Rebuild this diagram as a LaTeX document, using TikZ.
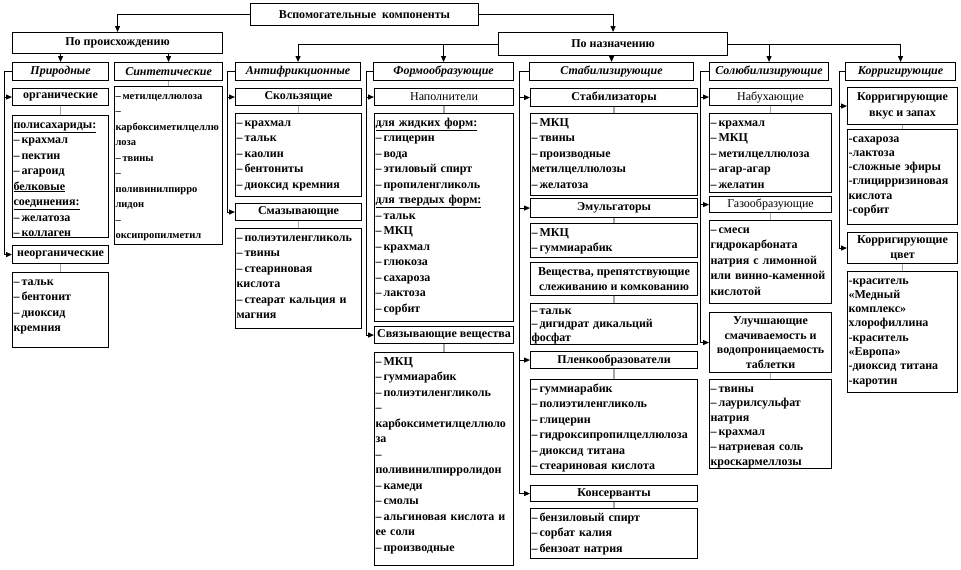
\documentclass[tikz,border=0pt]{standalone}
\usepackage{fontspec}
\setmainfont{Liberation Serif}
\usetikzlibrary{arrows.meta}

\begin{document}
\begin{tikzpicture}[
    x=1pt, y=-1pt,
    every node/.style={inner sep=0pt, font=\fontsize{12}{15.5}\selectfont\bfseries}
]

\tikzset{
  ttl/.style 2 args={draw, line width=1.1pt, anchor=north west,
    minimum width=#1pt, minimum height=#2pt, align=center},
  hdr/.style 2 args={ttl={#1}{#2}, font=\fontsize{12}{15.5}\selectfont\bfseries\itshape},
  lst/.style 2 args={draw, line width=1.1pt, anchor=north west, align=left,
    inner xsep=1pt, inner ysep=1.5pt, text width=#1pt-2pt,
    text height=11pt, text depth=#2pt-14pt},
  arr/.style={line width=1pt, -{Triangle[length=6pt,width=5pt]}},
  link/.style={draw=gray!70, line width=1.5pt}
}

\useasboundingbox (0,0) rectangle (961,570);

% ================= верхний уровень =================

\node[ttl={228}{22}] (top)    at (250,3)  {Вспомогательные~~компоненты};
\node[ttl={210}{21}] (proish) at (12,32)  {По происхождению};
\node[ttl={229}{23}] (naz)    at (498,32) {По назначению};

\draw[arr] (top.west) -| (proish.north);
\draw[arr] (top.east) -| (naz.north);

% ================= группы =================

\node[hdr={96}{18}]  (prir)  at (12,62)  {Природные};
\node[hdr={108}{18}] (sint)  at (114,62) {Синтетические};
\node[hdr={125}{18}] (anti)  at (235,62) {Антифрикционные};
\node[hdr={140}{18}] (form)  at (373,62) {Формообразующие};
\node[hdr={164}{18}] (stab)  at (529,62) {Стабилизирующие};
\node[hdr={119}{18}] (solub) at (709,62) {Солюбилизирующие};
\node[hdr={110}{18}] (korr)  at (845,62) {Корригирующие};

\draw[arr] (proish.south -| prir.north) -- (prir.north);
\draw[arr] (proish.south -| sint.north) -- (sint.north);
\draw[arr] (naz.west) -| (anti.north);
\draw[arr] (naz.west -| form.north) -- (form.north);
\draw[arr] (naz.south -| stab.north) -- (stab.north);
\draw[arr] (naz.east -| solub.north) -- (solub.north);
\draw[arr] (naz.east) -| (korr.north);

% ================= Природные / Синтетические =================

\node[ttl={96}{17}] (org) at (12,88) {органические};
\node[lst={96}{122}] (orgL) at (12,115) {\underline{полисахариды:}\\
  –\,крахмал\\ –\,пектин\\ –\,агароид\\ \underline{белковые}\\
  \underline{соединения:}\\ –\,желатоза\\ –\,коллаген};
\node[ttl={96}{18}] (neorg) at (12,245) {неорганические};
\node[lst={96}{75}] (neorgL) at (12,272) {–\,тальк\\ –\,бентонит\\ –\,диоксид\\ кремния};

\draw[arr] (prir.west) -- ++(-8,0) |- (org.west);
\draw[arr] (prir.west) -- ++(-8,0) |- (neorg.west);
\draw[link] (org) -- (orgL);
\draw[link] (neorg) -- (neorgL);

\node[lst={108}{158}, font=\fontsize{10.5}{15.5}\selectfont\bfseries] (sintL) at (114,86)
  {–\,метилцеллюлоза\\ –\\ карбоксиметилцеллю\\
  лоза\\ –\,твины\\ –\\ поливинилпирро\\ лидон\\ –\\ оксипропилметил};
\draw[link] (sint) -- (sintL);

% ================= Антифрикционные =================

\node[ttl={126}{17}] (skol) at (235,88) {Скользящие};
\node[lst={126}{83}] (skolL) at (235,113) {–\,крахмал\\ –\,тальк\\ –\,каолин\\
  –\,бентониты\\ –\,диоксид кремния};
\node[ttl={126}{17}] (smaz) at (235,203) {Смазывающие};
\node[lst={126}{100}] (smazL) at (235,228) {–\,полиэтиленгликоль\\ –\,твины\\
  –\,стеариновая\\ кислота\\ –\,стеарат кальция и\\ магния};

\draw[arr] (anti.west) -- ++(-8,0) |- (skol.west);
\draw[arr] (anti.west) -- ++(-8,0) |- (smaz.west);
\draw[link] (skol) -- (skolL);
\draw[link] (smaz) -- (smazL);

% ================= Формообразующие =================

\node[ttl={139}{17}, font=\fontsize{12}{15.5}\selectfont] (napol) at (374,88) {Наполнители};
\node[lst={139}{208}] (napolL) at (374,113) {\underline{для жидких форм:}\\
  –\,глицерин\\ –\,вода\\ –\,этиловый спирт\\ –\,пропиленгликоль\\
  \underline{для твердых форм:}\\ –\,тальк\\ –\,МКЦ\\ –\,крахмал\\
  –\,глюкоза\\ –\,сахароза\\ –\,лактоза\\ –\,сорбит};
\node[ttl={139}{17}] (svyaz) at (374,326) {Связывающие вещества};
\node[lst={139}{213}] (svyazL) at (374,352) {–\,МКЦ\\ –\,гуммиарабик\\
  –\,полиэтиленгликоль\\ –\\ карбоксиметилцеллюло\\ за\\ –\\
  поливинилпирролидон\\ –\,камеди\\ –\,смолы\\ –\,альгиновая кислота и\\
  ее соли\\ –\,производные};

\draw[arr] (form.west) -- ++(-7,0) |- (napol.west);
\draw[arr] (form.west) -- ++(-7,0) |- (svyaz.west);
\draw[link] (napol) -- (napolL);
\draw[link] (svyaz) -- (svyazL);

% ================= Стабилизирующие =================

\node[ttl={167}{18}] (stabz) at (530,88) {Стабилизаторы};
\node[lst={167}{82}] (stabzL) at (530,113) {–\,МКЦ\\ –\,твины\\ –\,производные\\
  метилцеллюлозы\\ –\,желатоза};
\node[ttl={167}{19}] (emul) at (530,198) {Эмульгаторы};
\node[lst={167}{34}] (emulL) at (530,223) {–\,МКЦ\\ –\,гуммиарабик};
\node[ttl={167}{33}] (vesch) at (530,262) {Вещества, препятствующие\\ слеживанию и комкованию};
\node[lst={167}{41}, font=\fontsize{12}{13.5}\selectfont\bfseries, text height=9pt,
  text depth=41pt-12pt] (veschL) at (530,303) {–\,тальк\\ –\,дигидрат дикальций\\ фосфат};
\node[ttl={167}{17}] (plenk) at (530,351) {Пленкообразователи};
\node[lst={167}{95}] (plenkL) at (530,379) {–\,гуммиарабик\\ –\,полиэтиленгликоль\\
  –\,глицерин\\ –\,гидроксипропилцеллюлоза\\ –\,диоксид титана\\
  –\,стеариновая кислота};
\node[ttl={167}{16}] (kons) at (530,485) {Консерванты};
\node[lst={167}{50}] (konsL) at (530,508) {–\,бензиловый спирт\\ –\,сорбат калия\\
  –\,бензоат натрия};

\draw[arr] (stab.west) -- ++(-10,0) |- (stabz.west);
\draw[arr] (stab.west) -- ++(-10,0) |- (emul.west);
\draw[arr] (stab.west) -- ++(-10,0) |- (plenk.west);
\draw[arr] (stab.west) -- ++(-10,0) |- (kons.west);
\draw[link] (stabz) -- (stabzL);
\draw[link] (emul) -- (emulL);
\draw[link] (vesch) -- (veschL);
\draw[link] (plenk) -- (plenkL);
\draw[link] (kons) -- (konsL);

% ================= Солюбилизирующие =================

\node[ttl={122}{17}, font=\fontsize{12}{15.5}\selectfont] (nab) at (709,88) {Набухающие};
\node[lst={122}{79}] (nabL) at (709,113) {–\,крахмал\\ –\,МКЦ\\ –\,метилцеллюлоза\\
  –\,агар-агар\\ –\,желатин};
\node[ttl={122}{16}, font=\fontsize{12}{15.5}\selectfont] (gaz) at (709,196) {Газообразующие};
\node[lst={122}{83}] (gazL) at (709,220) {–\,смеси\\ гидрокарбоната\\ натрия с лимонной\\
  или винно-каменной\\ кислотой};
\node[ttl={122}{60}, font=\fontsize{12}{14.5}\selectfont\bfseries] (uluch) at (709,312)
  {Улучшающие\\ смачиваемость и\\ водопроницаемость\\ таблетки};
\node[lst={122}{89}, font=\fontsize{12}{14.6}\selectfont\bfseries] (uluchL) at (709,379)
  {–\,твины\\ –\,лаурилсульфат\\ натрия\\
  –\,крахмал\\ –\,натриевая соль\\ кроскармеллозы};

\draw[arr] (solub.west) -- ++(-9,0) |- (nab.west);
\draw[arr] (solub.west) -- ++(-9,0) |- (gaz.west);
\draw[arr] (solub.west) -- ++(-9,0) |- (uluch.west);
\draw[link] (nab) -- (nabL);
\draw[link] (gaz) -- (gazL);
\draw[link] (uluch) -- (uluchL);

% ================= Корригирующие =================

\node[ttl={110}{37}] (vkus) at (847,87) {Корригирующие\\ вкус и запах};
\node[lst={110}{95}, font=\fontsize{12}{14.3}\selectfont\bfseries] (vkusL) at (847,129)
  {-сахароза\\ -лактоза\\ -сложные эфиры\\ -глицирризиновая\\ кислота\\ -сорбит};
\node[ttl={110}{31}] (cvet) at (847,232) {Корригирующие\\ цвет};
\node[lst={110}{121}, font=\fontsize{12}{14.3}\selectfont\bfseries] (cvetL) at (847,271)
  {-краситель\\ «Медный\\ комплекс»\\ хлорофиллина\\ -краситель\\ «Европа»\\
  -диоксид титана\\ -каротин};

\draw[arr] (korr.west) -- ++(-6,0) |- (vkus.west);
\draw[arr] (korr.west) -- ++(-6,0) |- (cvet.west);
\draw[link] (vkus) -- (vkusL);
\draw[link] (cvet) -- (cvetL);

\end{tikzpicture}
\end{document}
